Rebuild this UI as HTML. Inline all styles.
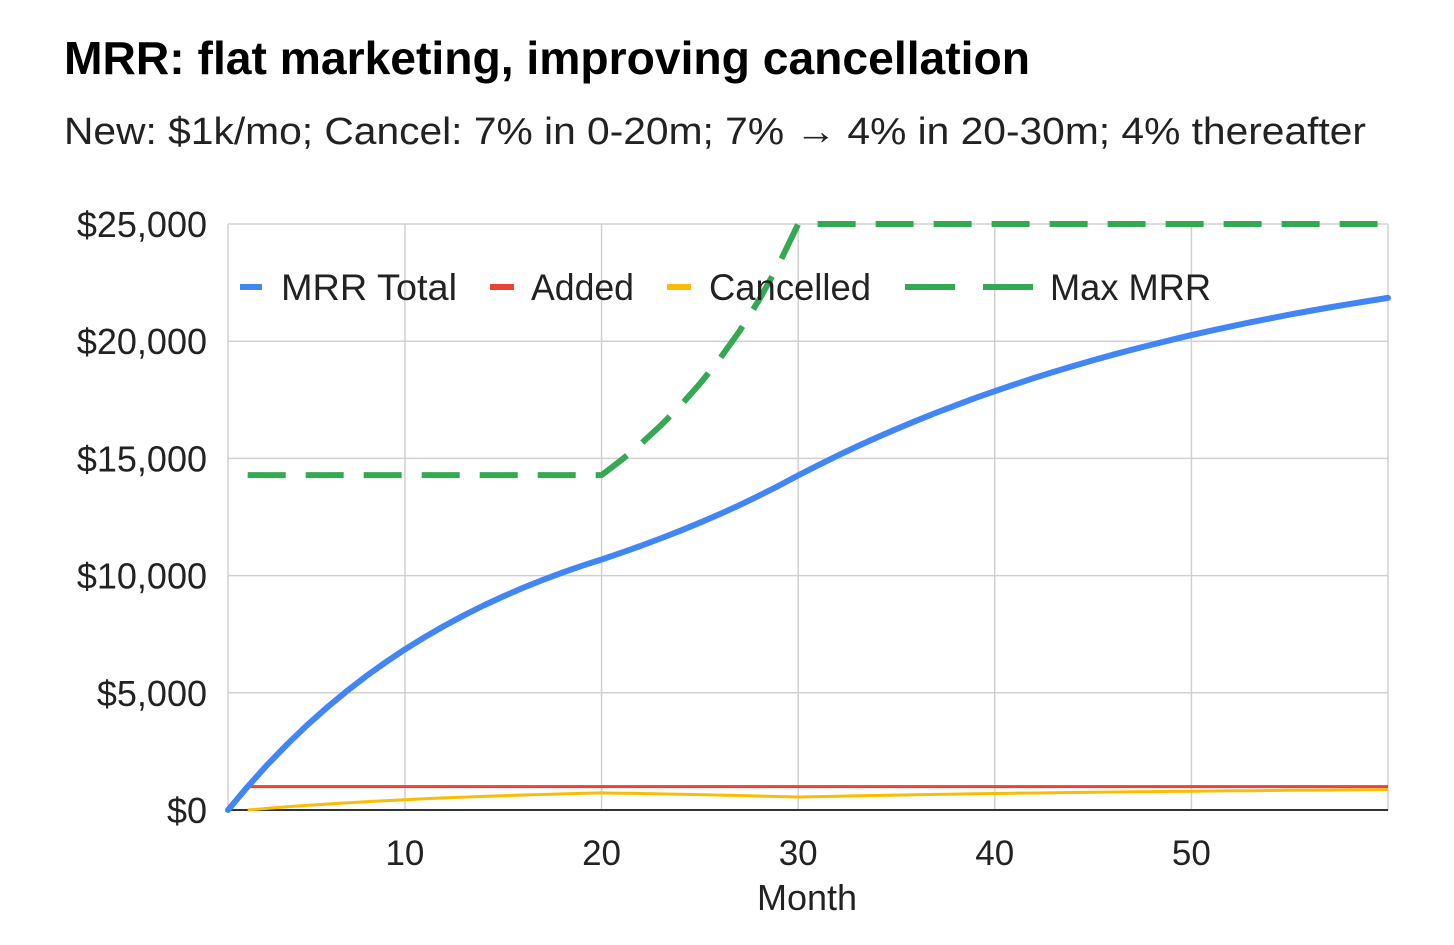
<!DOCTYPE html>
<html><head><meta charset="utf-8">
<style>
html,body{margin:0;padding:0;background:#fff;}
body{width:1454px;height:940px;overflow:hidden;font-family:"Liberation Sans",Arial,sans-serif;}
</style></head>
<body>
<svg id="chart" width="1454" height="940" xmlns="http://www.w3.org/2000/svg" font-family="Liberation Sans, Arial, sans-serif">
  <text x="64" y="74" font-size="46" font-weight="bold" fill="#000" textLength="966" lengthAdjust="spacingAndGlyphs">MRR: flat marketing, improving cancellation</text>
  <text x="64" y="144" font-size="38" fill="#222" textLength="1302" lengthAdjust="spacingAndGlyphs">New: $1k/mo; Cancel: 7% in 0-20m; 7% → 4% in 20-30m; 4% thereafter</text>
  <g id="grid"></g>
  <g id="series"></g>
  <g id="legend"></g>
</svg>
<script>
const months = [1,2,3,4,5,6,7,8,9,10,11,12,13,14,15,16,17,18,19,20,21,22,23,24,25,26,27,28,29,30,31,32,33,34,35,36,37,38,39,40,41,42,43,44,45,46,47,48,49,50,51,52,53,54,55,56,57,58,59,60];
const mrrTotal = [0,1000,1930,2795,3599,4347,5043,5690,6291,6851,7371,7855,8305,8724,9113,9475,9812,10125,10417,10688,10972,11270,11583,11911,12256,12619,13001,13403,13827,14274,14703,15115,15510,15890,16254,16604,16940,17262,17572,17869,18154,18428,18691,18943,19185,19418,19641,19856,20061,20259,20449,20631,20805,20973,21134,21289,21437,21580,21717,21848];
const added = [null,1000,1000,1000,1000,1000,1000,1000,1000,1000,1000,1000,1000,1000,1000,1000,1000,1000,1000,1000,1000,1000,1000,1000,1000,1000,1000,1000,1000,1000,1000,1000,1000,1000,1000,1000,1000,1000,1000,1000,1000,1000,1000,1000,1000,1000,1000,1000,1000,1000,1000,1000,1000,1000,1000,1000,1000,1000,1000,1000];
const cancelled = [null,0,70,135,196,252,304,353,398,440,480,516,550,581,611,638,663,687,709,729,716,702,687,672,655,637,618,598,576,553,571,588,605,620,636,650,664,678,690,703,715,726,737,748,758,767,777,786,794,802,810,818,825,832,839,845,851,857,863,869];
const maxMrr = [null,14286,14286,14286,14286,14286,14286,14286,14286,14286,14286,14286,14286,14286,14286,14286,14286,14286,14286,14286,14925,15625,16393,17241,18182,19231,20408,21739,23256,25000,25000,25000,25000,25000,25000,25000,25000,25000,25000,25000,25000,25000,25000,25000,25000,25000,25000,25000,25000,25000,25000,25000,25000,25000,25000,25000,25000,25000,25000,25000];
const yTicks = [0,5000,10000,15000,20000,25000];
const yTickLabels = ["$0","$5,000","$10,000","$15,000","$20,000","$25,000"];
const xTicks = [10,20,30,40,50];
const xTickLabels = ["10","20","30","40","50"];

const NS="http://www.w3.org/2000/svg";
const X0=228, X1=1388, Y0=810, Y1=224;
const xMin=1, xMax=60, yMin=0, yMax=25000;
function xs(v){return X0+(v-xMin)/(xMax-xMin)*(X1-X0);}
function ys(v){return Y0-(v-yMin)/(yMax-yMin)*(Y0-Y1);}
function mk(tag,attrs,parent){const e=document.createElementNS(NS,tag);for(const k in attrs)e.setAttribute(k,attrs[k]);parent.appendChild(e);return e;}

const grid=document.getElementById('grid');
yTicks.forEach((t,i)=>{
  const l=mk('line',{x1:X0,x2:X1,y1:ys(t),y2:ys(t),stroke:'#d0d0d0','stroke-width':1.5},grid);
  
  
  const tx=mk('text',{x:207,y:ys(t)+13,'font-size':36,'text-anchor':'end',fill:'#222'},grid);
  tx.textContent=yTickLabels[i];
  
  
});
[xMin].concat(xTicks,[xMax]).forEach(t=>{
  const l=mk('line',{x1:xs(t),x2:xs(t),y1:Y1,y2:Y0,stroke:'#d0d0d0','stroke-width':1.5},grid);
  
  
});
xTicks.forEach((t,i)=>{
  const tx=mk('text',{x:xs(t),y:865,'font-size':35,'text-anchor':'middle',fill:'#222'},grid);
  tx.textContent=xTickLabels[i];
  
  
});
const ax=mk('line',{x1:X0,x2:X1,y1:Y0,y2:Y0,stroke:'#333','stroke-width':2},grid);


const xt=mk('text',{x:807,y:910,'font-size':36,'text-anchor':'middle',fill:'#222'},grid);
xt.textContent='Month';



const series=document.getElementById('series');
function pathFor(arr){let d='';let started=false;arr.forEach((v,i)=>{if(v===null)return;d+=(started?'L':'M')+xs(months[i]).toFixed(1)+' '+ys(v).toFixed(1)+' ';started=true;});return d;}
const pA=mk('path',{d:pathFor(added),fill:'none',stroke:'#ea4335','stroke-width':3},series);


const pC=mk('path',{d:pathFor(cancelled),fill:'none',stroke:'#fbbc04','stroke-width':3},series);


const pM=mk('path',{d:pathFor(maxMrr),fill:'none',stroke:'#34a853','stroke-width':6,'stroke-dasharray':'38 20','stroke-linejoin':'round'},series);


const pT=mk('path',{d:pathFor(mrrTotal),fill:'none',stroke:'#4285f4','stroke-width':6,'stroke-linejoin':'round','stroke-linecap':'round'},series);



const legend=document.getElementById('legend');
const ly=287;
[[240,262,'#4285f4',6,null,281,'MRR Total','legend-mrr-total',176],
 [490,514,'#ea4335',6,null,531,'Added','legend-added',103],
 [667,691,'#fbbc04',6,null,709,'Cancelled','legend-cancelled',162],
 [905,1033,'#34a853',6,'50 28',1050,'Max MRR','legend-max-mrr',161]].forEach(e=>{
  const g=mk('g',{},legend);
  
  
  const a={x1:e[0],x2:e[1],y1:ly,y2:ly,stroke:e[2],'stroke-width':e[3]};
  if(e[4])a['stroke-dasharray']=e[4];
  mk('line',a,g);
  const t=mk('text',{x:e[5],y:ly+13,'font-size':37,fill:'#222',textLength:e[8],lengthAdjust:'spacingAndGlyphs'},g);
  t.textContent=e[6];
});
</script>
</body></html>
